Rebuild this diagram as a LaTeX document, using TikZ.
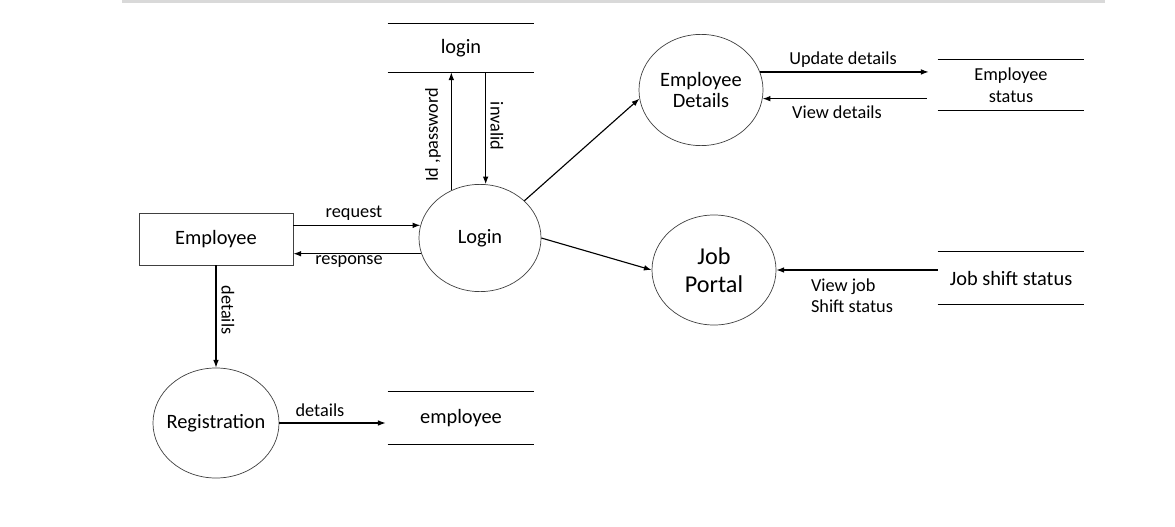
\documentclass[tikz,border=0pt]{standalone}
\usepackage{fontspec}
\setmainfont{Carlito}
\usetikzlibrary{shapes.geometric,arrows.meta,calc}
\begin{document}
\begin{tikzpicture}[x=0.025cm,y=-0.025cm,
  font=\fontsize{14.5}{15.6}\selectfont,
  proc/.style={draw=black!75, line width=0.5pt, ellipse, inner sep=0pt, align=center},
  store/.style={minimum width=3.65cm, minimum height=1.2cm, inner sep=0pt, align=center},
  lbl/.style={font=\fontsize{13}{15}\selectfont, inner sep=0pt, align=left},
  flow/.style={-{Latex[length=5.5pt,width=4pt]}, line width=0.8pt},
  wall/.style={line width=1pt}]
\useasboundingbox (0,0) rectangle (1175,526);
\fill[black!15] (122,0) rectangle (1105,3);
% external entity and processes
\node[draw=black!75, line width=0.5pt, minimum width=3.85cm, minimum height=1.3cm] (emp) at (216,239) {Employee};
\node[proc, minimum width=3.05cm, minimum height=2.68cm] (login) at (480,238) {Login};
\node[proc, inner xsep=-6pt, minimum width=3.15cm, minimum height=2.75cm] (reg) at (216,423) {Registration};
\node[proc, minimum width=3.1cm, minimum height=2.78cm] (empdet) at (701,90) {Employee\\ Details};
\node[proc, minimum width=3.1cm, minimum height=2.75cm, font=\fontsize{17.2}{19.8}\selectfont] (job) at (714,270) {Job\\ Portal};
% data stores
\node[store] (loginstore) at (461,48) {login};
\node[store, minimum height=1.3cm] (empstore) at (461,418) {employee};
\node[store, minimum height=1.25cm, font=\fontsize{13}{15.6}\selectfont] (empstat) at (1011,85) {Employee\\status};
\node[store, minimum height=1.3cm] (jobstat) at (1011,278) {Job shift status};
\foreach \s in {loginstore,empstore,empstat,jobstat}
  \draw[wall] (\s.north west) -- (\s.north east) (\s.south west) -- (\s.south east);
% flows
\draw[flow] (login.168 -| emp.east) -- (login.168);
\draw[flow] (login.195) -- (login.195 -| emp.east);
\draw[flow] (login.121) -- (login.121 |- loginstore.south);
\draw[flow] (login.84 |- loginstore.south) -- (login.84);
\draw[flow] (emp.south) -- (reg.north);
\draw[flow] (reg.east) -- ($(reg.east -| empstore.west)+(-2,0)$);
\draw[flow] (login.40) -- (empdet.188);
\draw[flow] (login.east) -- (job.west);
\draw[flow] (empdet.17) -- ($(empdet.17 -| empstat.west)+(-9,0)$);
\draw[flow] ($(empdet.-8 -| empstat.west)+(-11,0)$) -- (empdet.-8);
\draw[flow] (job.east -| jobstat.west) -- (job.east);
% flow labels
\node[lbl] (lreq) at (354,213) {request};
\node[lbl] (lresp) at (349,262) {response};
\node[lbl, rotate=90] (lid) at (433,135) {Id ,password};
\node[lbl, rotate=-90] (linv) at (497,126) {invalid};
\node[lbl, rotate=-90] (ldet) at (228,310) {details};
\node[lbl] (lregdet) at (320,410) {details};
\node[lbl] (lupd) at (843,60) {Update details};
\node[lbl] (lview) at (837,112) {View details};
\node[lbl, font=\fontsize{13}{14.9}\selectfont] (lviewjob) at (852,296) {View job\\ Shift status};
\end{tikzpicture}
\end{document}
